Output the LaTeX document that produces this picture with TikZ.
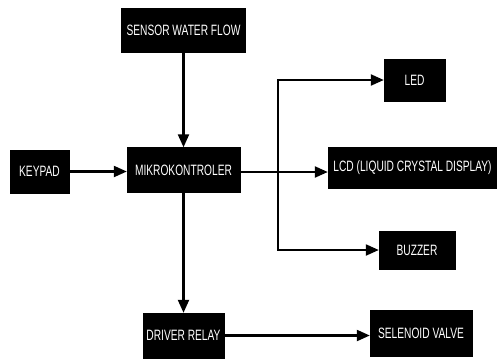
\documentclass[tikz,border=0pt]{standalone}
\usepackage{fontspec}
\setmainfont{Liberation Sans}[FakeStretch=0.68]
\usetikzlibrary{arrows.meta}
\begin{document}
\begin{tikzpicture}[x=1pt,y=-1pt,
  blk/.style={draw=black,fill=black,text=white,inner sep=0pt,font=\fontsize{15}{17}\selectfont},
  conn/.style={line width=2.2pt,-{Triangle[length=13pt,width=11pt]}}]
\useasboundingbox (0,0) rectangle (497,360);
\node[blk,minimum width=124pt,minimum height=44pt] (sensor) at (183.5,30) {SENSOR WATER FLOW};
\node[blk,minimum width=59pt,minimum height=43pt] (keypad) at (39.5,171.5) {KEYPAD};
\node[blk,minimum width=113pt,minimum height=45pt] (mikro) at (183.5,170) {MIKROKONTROLER};
\node[blk,minimum width=61pt,minimum height=42pt] (led) at (414.5,80) {LED};
\node[blk,minimum width=169pt,minimum height=41pt] (lcd) at (412.5,168) {LCD (LIQUID CRYSTAL DISPLAY)};
\node[blk,minimum width=76pt,minimum height=38pt] (buzzer) at (417,250) {BUZZER};
\node[blk,minimum width=81pt,minimum height=45pt] (driver) at (183.5,335.5) {DRIVER RELAY};
\node[blk,minimum width=102pt,minimum height=46pt] (sel) at (421,333) {SELENOID VALVE};
\coordinate (j) at (278,172);
\draw[conn] (sensor.south) -- (mikro.north);
\draw[conn] (keypad.east) -- (keypad.east -| mikro.west);
\draw[conn] (mikro.east |- j) -- (j -| lcd.west);
\draw[conn] (j) |- (led.west);
\draw[conn] (j) |- (buzzer.west);
\draw[conn] (mikro.south) -- (driver.north);
\draw[conn] (driver.east) -- (driver.east -| sel.west);
\end{tikzpicture}
\end{document}
